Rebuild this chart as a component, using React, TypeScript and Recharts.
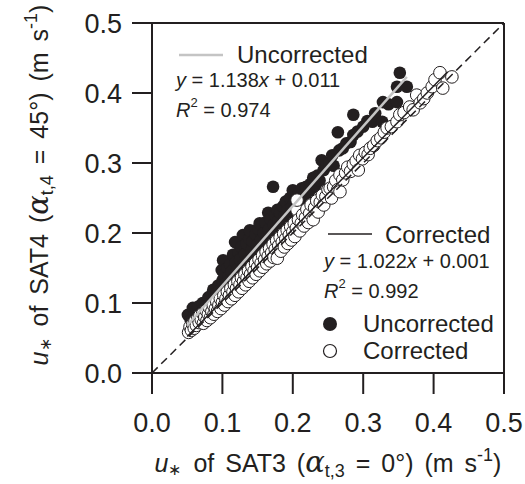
import { ScatterChart, Scatter, XAxis, YAxis, ReferenceLine, Customized } from "recharts";

// u* of SAT3 (x) vs u* of SAT4 (y), m s-1
const uncorrectedX = [
  0.051, 0.055, 0.058, 0.06, 0.063, 0.066, 0.068, 0.072, 0.074, 0.077, 0.08,
  0.082, 0.085, 0.087, 0.089, 0.092, 0.094, 0.096, 0.099, 0.1, 0.101, 0.103,
  0.105, 0.107, 0.109, 0.111, 0.113, 0.115, 0.116, 0.118, 0.119, 0.121, 0.123,
  0.125, 0.127, 0.129, 0.13, 0.132, 0.134, 0.136, 0.138, 0.139, 0.141, 0.143,
  0.145, 0.147, 0.149, 0.151, 0.153, 0.155, 0.157, 0.159, 0.161, 0.163, 0.165,
  0.166, 0.168, 0.17, 0.172, 0.173, 0.175, 0.177, 0.178, 0.18, 0.182, 0.184,
  0.186, 0.188, 0.19, 0.192, 0.194, 0.196, 0.198, 0.2, 0.202, 0.205, 0.207,
  0.209, 0.211, 0.213, 0.216, 0.219, 0.222, 0.225, 0.227, 0.229, 0.232, 0.235,
  0.238, 0.241, 0.244, 0.248, 0.252, 0.256, 0.258, 0.264, 0.266, 0.271, 0.276,
  0.282, 0.286, 0.286, 0.292, 0.3, 0.306, 0.313, 0.317, 0.327, 0.328, 0.336,
  0.348, 0.348, 0.362, 0.352,
];
const uncorrectedY = [
  0.083, 0.075, 0.093, 0.082, 0.088, 0.095, 0.085, 0.1, 0.092, 0.098, 0.108,
  0.1, 0.112, 0.119, 0.108, 0.115, 0.125, 0.118, 0.147, 0.132, 0.161, 0.14,
  0.128, 0.15, 0.138, 0.155, 0.145, 0.169, 0.135, 0.187, 0.158, 0.148, 0.172,
  0.162, 0.18, 0.197, 0.155, 0.17, 0.185, 0.16, 0.192, 0.204, 0.175, 0.188,
  0.168, 0.198, 0.182, 0.206, 0.214, 0.19, 0.178, 0.2, 0.215, 0.188, 0.229,
  0.205, 0.22, 0.196, 0.266, 0.212, 0.226, 0.205, 0.233, 0.218, 0.229, 0.212,
  0.238, 0.224, 0.245, 0.232, 0.22, 0.25, 0.236, 0.261, 0.244, 0.252, 0.238,
  0.258, 0.248, 0.264, 0.255, 0.266, 0.258, 0.27, 0.264, 0.279, 0.268, 0.282,
  0.275, 0.304, 0.29, 0.296, 0.3, 0.311, 0.296, 0.344, 0.318, 0.321, 0.328,
  0.33, 0.34, 0.369, 0.345, 0.352, 0.36, 0.359, 0.371, 0.359, 0.387, 0.384,
  0.387, 0.409, 0.409, 0.429,
];

const correctedX = [
  0.052, 0.054, 0.056, 0.058, 0.06, 0.061, 0.063, 0.065, 0.067, 0.068, 0.07,
  0.072, 0.073, 0.075, 0.077, 0.078, 0.08, 0.082, 0.083, 0.085, 0.087, 0.088,
  0.09, 0.092, 0.093, 0.095, 0.097, 0.098, 0.1, 0.102, 0.103, 0.105, 0.107,
  0.108, 0.11, 0.112, 0.113, 0.115, 0.117, 0.118, 0.12, 0.122, 0.123, 0.125,
  0.127, 0.128, 0.13, 0.132, 0.133, 0.135, 0.137, 0.138, 0.14, 0.142, 0.143,
  0.145, 0.147, 0.148, 0.15, 0.152, 0.153, 0.155, 0.157, 0.158, 0.16, 0.162,
  0.163, 0.165, 0.167, 0.168, 0.17, 0.172, 0.173, 0.175, 0.177, 0.178, 0.18,
  0.182, 0.183, 0.185, 0.187, 0.188, 0.19, 0.192, 0.193, 0.195, 0.197, 0.198,
  0.2, 0.202, 0.203, 0.205, 0.206, 0.206, 0.208, 0.21, 0.212, 0.214, 0.216,
  0.218, 0.22, 0.222, 0.224, 0.226, 0.229, 0.231, 0.234, 0.236, 0.239, 0.242,
  0.244, 0.247, 0.25, 0.253, 0.255, 0.258, 0.261, 0.264, 0.267, 0.267, 0.271,
  0.275, 0.278, 0.282, 0.286, 0.29, 0.293, 0.295, 0.299, 0.303, 0.307, 0.31,
  0.315, 0.32, 0.325, 0.33, 0.334, 0.34, 0.348, 0.352, 0.358, 0.366, 0.371,
  0.376, 0.381, 0.386, 0.391, 0.398, 0.402, 0.409, 0.413, 0.426,
];
const correctedY = [
  0.058, 0.066, 0.061, 0.07, 0.064, 0.074, 0.068, 0.078, 0.072, 0.082, 0.076,
  0.085, 0.071, 0.08, 0.089, 0.075, 0.084, 0.093, 0.079, 0.088, 0.097, 0.084,
  0.092, 0.102, 0.088, 0.097, 0.106, 0.092, 0.101, 0.111, 0.097, 0.106, 0.116,
  0.102, 0.111, 0.121, 0.106, 0.116, 0.126, 0.111, 0.121, 0.131, 0.116, 0.126,
  0.136, 0.121, 0.131, 0.141, 0.126, 0.136, 0.146, 0.131, 0.141, 0.152, 0.136,
  0.146, 0.157, 0.141, 0.151, 0.162, 0.146, 0.157, 0.168, 0.151, 0.162, 0.173,
  0.156, 0.167, 0.178, 0.16, 0.172, 0.184, 0.165, 0.177, 0.189, 0.164, 0.182,
  0.194, 0.174, 0.187, 0.199, 0.18, 0.192, 0.204, 0.185, 0.197, 0.209, 0.19,
  0.202, 0.214, 0.195, 0.207, 0.233, 0.247, 0.219, 0.203, 0.214, 0.226, 0.21,
  0.222, 0.234, 0.215, 0.228, 0.24, 0.219, 0.236, 0.246, 0.23, 0.244, 0.254,
  0.24, 0.252, 0.262, 0.264, 0.25, 0.266, 0.275, 0.262, 0.283, 0.259, 0.276,
  0.286, 0.294, 0.288, 0.298, 0.303, 0.29, 0.311, 0.306, 0.315, 0.312, 0.321,
  0.325, 0.332, 0.336, 0.344, 0.35, 0.352, 0.359, 0.369, 0.372, 0.38, 0.376,
  0.397, 0.386, 0.392, 0.4, 0.409, 0.419, 0.429, 0.407, 0.423,
];

// regression fits printed in the figure, drawn over the x span of each series
const uncorrectedFit = { slope: 1.138, intercept: 0.011, from: 0.05, to: 0.362 };
const correctedFit = { slope: 1.022, intercept: 0.001, from: 0.05, to: 0.42 };
const oneToOne = [0, 0.5];

const ticks = [0, 0.1, 0.2, 0.3, 0.4, 0.5];

const uncorrected = uncorrectedX.map((x, i) => ({ x, y: uncorrectedY[i] }));
const corrected = correctedX.map((x, i) => ({ x, y: correctedY[i] }));
const fitLine = (f: typeof uncorrectedFit) => [
  { x: f.from, y: f.slope * f.from + f.intercept },
  { x: f.to, y: f.slope * f.to + f.intercept },
];
const oneToOneLine = oneToOne.map((v) => ({ x: v, y: v }));

const INK = "#231f20";
const GREY = "#c4c4c4";
const FONT = "'Liberation Sans', Arial, sans-serif";

const filledDot = (p: any) => <circle cx={p.cx} cy={p.cy} r={6.3} fill={INK} />;
const openDot = (p: any) => (
  <circle cx={p.cx} cy={p.cy} r={6.3} fill="#fff" stroke={INK} strokeWidth={1} />
);
const noDot = () => <g />;

// axis title with italic u*, subscripted alpha and m s^-1
const AxisTitle = ({ sat, sub, angle }: { sat: string; sub: string; angle: string }) => (
  <>
    <tspan fontStyle="italic">u</tspan>
    <tspan fontSize={16} dy={3}>∗</tspan>
    <tspan dy={-3} dx={12}>of {sat} (</tspan>
    <tspan fontStyle="italic" fontSize={29} fontFamily="'DejaVu Serif', serif">α</tspan>
    <tspan fontSize={18} dy={5}>{sub}</tspan>
    <tspan dy={-5}> = {angle}°) (m s</tspan>
    <tspan fontSize={18} dy={-11}>-1</tspan>
    <tspan dy={11}>)</tspan>
  </>
);

const Annotations = () => (
  <g fontFamily={FONT} fill={INK}>
    <line x1={179} y1={55} x2={223} y2={55} stroke={GREY} strokeWidth={2.5} />
    <text x={237} y={63} fontSize={24}>Uncorrected</text>
    <text x={176} y={87} fontSize={20}>
      <tspan fontStyle="italic">y</tspan> = 1.138<tspan fontStyle="italic">x</tspan> + 0.011
    </text>
    <text x={176} y={117} fontSize={20}>
      <tspan fontStyle="italic">R</tspan>
      <tspan fontSize={13} dy={-10}>2</tspan>
      <tspan dy={10}> = 0.974</tspan>
    </text>

    <line x1={328} y1={234} x2={372} y2={234} stroke={INK} strokeWidth={1.5} />
    <text x={385} y={243} fontSize={24}>Corrected</text>
    <text x={324} y={268} fontSize={20}>
      <tspan fontStyle="italic">y</tspan> = 1.022<tspan fontStyle="italic">x</tspan> + 0.001
    </text>
    <text x={324} y={298} fontSize={20}>
      <tspan fontStyle="italic">R</tspan>
      <tspan fontSize={13} dy={-10}>2</tspan>
      <tspan dy={10}> = 0.992</tspan>
    </text>
    <circle cx={330} cy={324} r={7} fill={INK} />
    <text x={363} y={332} fontSize={24}>Uncorrected</text>
    <circle cx={330} cy={351} r={6.5} fill="#fff" stroke={INK} strokeWidth={1.2} />
    <text x={363} y={359} fontSize={24}>Corrected</text>

    <text x={328} y={472} fontSize={25} wordSpacing={4} textAnchor="middle">
      <AxisTitle sat="SAT3" sub="t,3" angle="0" />
    </text>
    <text
      fontSize={25}
      wordSpacing={4}
      textAnchor="middle"
      transform="translate(48 185) rotate(-90)"
    >
      <AxisTitle sat="SAT4" sub="t,4" angle="45" />
    </text>
  </g>
);

export default function App() {
  return (
    <div
      style={{
        position: "absolute",
        left: 0,
        top: 0,
        width: 525,
        height: 484,
        background: "#fff",
        fontFamily: FONT,
      }}
    >
      <ScatterChart width={525} height={484} margin={{ top: 23, right: 21, left: 0, bottom: 0 }}>
        <XAxis
          type="number"
          dataKey="x"
          domain={[0, 0.5]}
          ticks={ticks}
          tickFormatter={(v) => v.toFixed(1)}
          height={111}
          tickSize={21}
          tickMargin={19}
          stroke={INK}
          strokeWidth={2}
          tick={{ fill: INK, fontSize: 27 }}
          allowDataOverflow
        />
        <YAxis
          type="number"
          dataKey="y"
          domain={[0, 0.5]}
          ticks={ticks}
          tickFormatter={(v) => v.toFixed(1)}
          width={152}
          tickSize={20}
          tickMargin={10}
          stroke={INK}
          strokeWidth={2}
          tick={{ fill: INK, fontSize: 27 }}
          allowDataOverflow
        />
        <ReferenceLine y={0.5} stroke={INK} strokeWidth={2} ifOverflow="visible" />
        <ReferenceLine x={0.5} stroke={INK} strokeWidth={2} ifOverflow="visible" />
        <Scatter data={uncorrected} shape={filledDot} isAnimationActive={false} />
        <Scatter data={corrected} shape={openDot} isAnimationActive={false} />
        <Scatter
          data={oneToOneLine}
          shape={noDot}
          stroke={INK}
          line={{ stroke: INK, strokeWidth: 1.5, strokeDasharray: "8 5" }}
          isAnimationActive={false}
        />
        <Scatter
          data={fitLine(uncorrectedFit)}
          shape={noDot}
          stroke={GREY}
          line={{ stroke: GREY, strokeWidth: 2.5 }}
          isAnimationActive={false}
        />
        <Scatter
          data={fitLine(correctedFit)}
          shape={noDot}
          stroke={INK}
          line={{ stroke: INK, strokeWidth: 1.5 }}
          isAnimationActive={false}
        />
        <Customized component={Annotations} />
      </ScatterChart>
    </div>
  );
}
